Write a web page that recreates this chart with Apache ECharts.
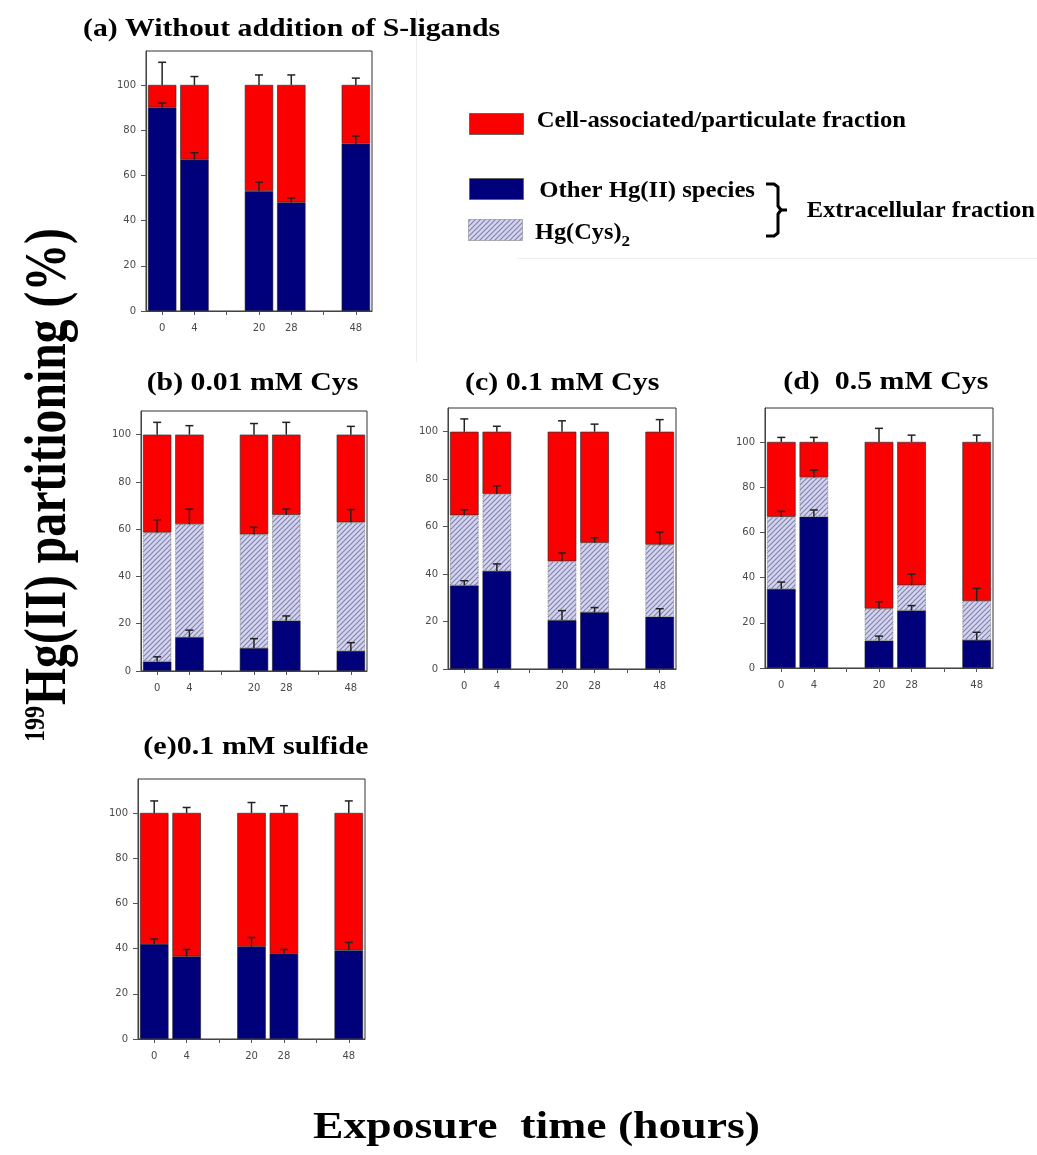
<!DOCTYPE html>
<html><head><meta charset="utf-8">
<script src="https://cdn.jsdelivr.net/npm/echarts@6/dist/echarts.min.js"></script>
<style>html,body{margin:0;padding:0;background:#fff}#c{width:1037px;height:1155px}</style>
</head><body><div id="c"></div><script>
// ---------- data ----------
const times = ['0', '4', '20', '28', '48'];
const slots = ['0', '4', '', '20', '28', '', '48'];   // axis layout with gaps
const slotOfTime = [0, 1, 3, 4, 6];
const yTicks = [0, 20, 40, 60, 80, 100];

// (a) without S-ligands
const aOther = [90, 67, 53, 48, 74];
const aOtherErr = [2, 3, 4, 2, 3.4];
const aCell = [10, 33, 47, 52, 26];
const aCellErr = [10, 3.7, 4.4, 4.4, 3];
// (b) 0.01 mM Cys
const bOther = [4, 14.3, 9.7, 21.3, 8.5];
const bOtherErr = [2, 3, 4, 2, 3.5];
const bCys = [54.6, 47.8, 48.1, 44.8, 54.4];
const bCysErr = [5.4, 6.4, 3, 2.4, 5.4];
const bCell = [41.4, 37.9, 42.2, 33.9, 37.1];
const bCellErr = [5.2, 3.8, 4.7, 5.2, 3.5];
// (c) 0.1 mM Cys
const cOther = [35.2, 41.3, 20.6, 23.9, 22];
const cOtherErr = [2, 3, 4, 2, 3.4];
const cCys = [29.6, 32.5, 24.8, 29.3, 30.4];
const cCysErr = [2.3, 3.4, 3.5, 2.1, 5.3];
const cCell = [35.2, 26.2, 54.6, 46.8, 47.6];
const cCellErr = [5.4, 2.3, 4.6, 3.2, 5.1];
// (d) 0.5 mM Cys
const dOther = [35, 66.9, 12.1, 25.4, 12.4];
const dOtherErr = [3, 3, 2, 2.2, 3.4];
const dCys = [31.9, 17.4, 14.2, 11.2, 17.2];
const dCysErr = [2.4, 3.2, 3, 4.9, 5.6];
const dCell = [33.1, 15.7, 73.7, 63.4, 70.4];
const dCellErr = [2, 2, 6, 3, 3];
// (e) 0.1 mM sulfide
const eOther = [42, 36.5, 40.8, 37.7, 39.2];
const eOtherErr = [2.2, 3.1, 4.1, 1.9, 3.5];
const eCell = [58, 63.5, 59.2, 62.3, 60.8];
const eCellErr = [5.3, 2.4, 4.6, 3.2, 5.3];

const panelTitles = ['(a) Without addition of S-ligands', '(b) 0.01 mM Cys', '(c) 0.1 mM Cys', '(d)  0.5 mM Cys', '(e)0.1 mM sulfide'];
const legendNames = ['Cell-associated/particulate fraction', 'Other Hg(II) species', 'Hg(Cys)', 'Extracellular fraction'];

// ---------- layout ----------
const panels = [
  { other: aOther, otherErr: aOtherErr, cys: null, cysErr: null, cell: aCell, cellErr: aCellErr, g: { left: 146, top: 51, width: 226, height: 260 }, max: 115 },
  { other: bOther, otherErr: bOtherErr, cys: bCys, cysErr: bCysErr, cell: bCell, cellErr: bCellErr, g: { left: 141, top: 411, width: 226, height: 260 }, max: 110 },
  { other: cOther, otherErr: cOtherErr, cys: cCys, cysErr: cCysErr, cell: cCell, cellErr: cCellErr, g: { left: 448, top: 408, width: 228, height: 261 }, max: 110 },
  { other: dOther, otherErr: dOtherErr, cys: dCys, cysErr: dCysErr, cell: dCell, cellErr: dCellErr, g: { left: 765, top: 408, width: 228, height: 260 }, max: 115 },
  { other: eOther, otherErr: eOtherErr, cys: null, cysErr: null, cell: eCell, cellErr: eCellErr, g: { left: 138, top: 779, width: 227, height: 260 }, max: 115 }
];
const titlePos = [[83, 500, 30], [146.7, 358.3, 383.5], [465, 659.3, 383.5], [783.3, 988.3, 382.5], [143.3, 368.3, 747.5]];

const RED = '#fb0000', NAVY = '#00007a';
const pat = document.createElement('canvas'); pat.width = 5; pat.height = 5;
(function () {
  const g = pat.getContext('2d');
  g.fillStyle = '#d4d4ea'; g.fillRect(0, 0, 5, 5);
  g.strokeStyle = '#8282b8'; g.lineWidth = 1.2;
  g.beginPath();
  g.moveTo(0, 5); g.lineTo(5, 0);
  g.moveTo(-1, 1); g.lineTo(1, -1);
  g.moveTo(4, 6); g.lineTo(6, 4);
  g.stroke();
})();
const HATCH = { image: pat, repeat: 'repeat' };

const SERIF = '"Liberation Serif", "Times New Roman", serif';
const mctx = document.createElement('canvas').getContext('2d');
function measure(text, size) { mctx.font = 'bold ' + size + 'px ' + SERIF; return mctx.measureText(text).width; }
function fitText(text, size, x0, x1, cy) {
  const w = measure(text, size);
  const font = 'bold ' + size + 'px ' + SERIF;
  return { type: 'text', x: x0, y: cy, scaleX: (x1 - x0) / w, z: 100,
    style: { text: text, font: font, fill: '#000', textAlign: 'left', textVerticalAlign: 'middle', align: 'left', verticalAlign: 'middle' } };
}
function toSlots(arr) { const out = slots.map(() => '-'); arr.forEach((v, i) => { out[slotOfTime[i]] = v; }); return out; }

const grids = [], xAxes = [], yAxes = [], series = [];
panels.forEach((p, k) => {
  grids.push(Object.assign({ show: true, borderColor: '#333', borderWidth: 1, backgroundColor: 'transparent' }, p.g));
  xAxes.push({ type: 'category', gridIndex: k, data: slots, boundaryGap: true,
    axisLine: { lineStyle: { color: '#444', width: 1 } },
    axisTick: { show: true, alignWithLabel: true, interval: 0, length: 4, lineStyle: { color: '#555' } },
    axisLabel: { interval: 0, fontSize: 10, color: '#4a4a4a', fontFamily: 'DejaVu Sans', margin: 12 } });
  yAxes.push({ type: 'value', gridIndex: k, min: 0, max: p.max, interval: 20, splitLine: { show: false },
    axisLine: { show: true, lineStyle: { color: '#444', width: 1 } },
    axisTick: { show: true, length: 5, customValues: yTicks, lineStyle: { color: '#555' } },
    axisLabel: { fontSize: 10, color: '#4a4a4a', fontFamily: 'DejaVu Sans', margin: 10, customValues: yTicks } });
  const st = 's' + k;
  series.push({ type: 'bar', name: legendNames[1], xAxisIndex: k, yAxisIndex: k, stack: st, barWidth: '88%', data: toSlots(p.other),
    itemStyle: { color: NAVY, borderColor: '#222', borderWidth: 0.6 } });
  if (p.cys) series.push({ type: 'bar', name: legendNames[2], xAxisIndex: k, yAxisIndex: k, stack: st, barWidth: '88%', data: toSlots(p.cys),
    itemStyle: { color: HATCH, borderColor: '#777', borderWidth: 0.8, borderType: 'dotted' } });
  series.push({ type: 'bar', name: legendNames[0], xAxisIndex: k, yAxisIndex: k, stack: st, barWidth: '88%', data: toSlots(p.cell),
    itemStyle: { color: RED, borderColor: '#333', borderWidth: 0.7 } });
  // error bars (upper half), at the top of each stacked segment
  const rows = [];
  p.other.forEach((v, i) => {
    const s = slotOfTime[i];
    rows.push([s, v, p.otherErr[i]]);
    let top = v;
    if (p.cys) { top += p.cys[i]; rows.push([s, top, p.cysErr[i]]); }
    top += p.cell[i]; rows.push([s, top, p.cellErr[i]]);
  });
  series.push({ type: 'custom', xAxisIndex: k, yAxisIndex: k, z: 10, silent: true, data: rows,
    renderItem: function (params, api) {
      const a = api.coord([api.value(0), api.value(1)]);
      const b = api.coord([api.value(0), api.value(1) + api.value(2)]);
      const st = { stroke: '#222', lineWidth: 1.5 };
      return { type: 'group', children: [
        { type: 'line', shape: { x1: a[0], y1: a[1], x2: b[0], y2: b[1] }, style: st },
        { type: 'line', shape: { x1: b[0] - 4, y1: b[1], x2: b[0] + 4, y2: b[1] }, style: st } ] };
    } });
});

// ---------- graphic: titles, legend, axis titles ----------
const graphic = [];
panelTitles.forEach((t, i) => graphic.push(fitText(t, 25, titlePos[i][0], titlePos[i][1], titlePos[i][2])));
// legend swatches
graphic.push({ type: 'rect', shape: { x: 469.5, y: 113.5, width: 54, height: 21 }, style: { fill: RED, stroke: '#666', lineWidth: 1 } });
graphic.push({ type: 'rect', shape: { x: 469.5, y: 178.5, width: 54, height: 21 }, style: { fill: NAVY, stroke: '#666', lineWidth: 1 } });
graphic.push({ type: 'rect', shape: { x: 468.5, y: 219.5, width: 54, height: 21 }, style: { fill: HATCH, stroke: '#777', lineWidth: 1, lineDash: [1, 1] } });
graphic.push(fitText(legendNames[0], 24, 536.7, 906, 121));
graphic.push(fitText(legendNames[1], 24, 539.3, 755, 191));
graphic.push(fitText(legendNames[2], 24, 535, 621.5, 233));
graphic.push(fitText('2', 15, 621.5, 630, 242));
graphic.push(fitText(legendNames[3], 24, 806.7, 1035, 211));
// bracket
graphic.push({ type: 'polyline', shape: { points: [[766, 184], [774, 184], [778, 187], [778, 206], [781, 210], [778, 214], [778, 233], [774, 236], [766, 236]] },
  style: { stroke: '#000', lineWidth: 3, fill: null, lineJoin: 'round' } });
graphic.push({ type: 'line', shape: { x1: 780, y1: 210, x2: 787, y2: 210 }, style: { stroke: '#000', lineWidth: 3 } });
// x axis title
graphic.push(fitText('Exposure  time (hours)', 38, 313, 760, 1128));
// y axis title (rotated, reading bottom to top)
(function () {
  const supSize = 24, mainSize = 47;
  const bottom = 742, top = 228;
  const supLen = measure('199', supSize);
  const mainLen = measure('Hg(II) partitioning (%)', mainSize);
  const avail = bottom - top - supLen - 1;
  const scaleAlong = avail / mainLen;
  graphic.push({ type: 'text', x: 50, y: bottom - supLen - 1, rotation: Math.PI / 2, scaleX: scaleAlong, scaleY: 1.25, z: 100,
    style: { text: 'Hg(II) partitioning (%)', font: 'bold ' + mainSize + 'px ' + SERIF, fill: '#000', textAlign: 'left', textVerticalAlign: 'middle', align: 'left', verticalAlign: 'middle' } });
  graphic.push({ type: 'text', x: 36, y: bottom, rotation: Math.PI / 2, scaleY: 1.25, z: 100,
    style: { text: '199', font: 'bold ' + supSize + 'px ' + SERIF, fill: '#000', textAlign: 'left', textVerticalAlign: 'middle', align: 'left', verticalAlign: 'middle' } });
})();
// faint sub-figure frames
graphic.push({ type: 'line', shape: { x1: 416.5, y1: 10, x2: 416.5, y2: 362 }, style: { stroke: '#eeeeee', lineWidth: 1 } });
graphic.push({ type: 'line', shape: { x1: 517, y1: 258.5, x2: 1037, y2: 258.5 }, style: { stroke: '#eeeeee', lineWidth: 1 } });

const chart = echarts.init(document.getElementById('c'), null, { renderer: 'canvas' });
chart.setOption({ animation: false, backgroundColor: '#fff', grid: grids, xAxis: xAxes, yAxis: yAxes, series: series, graphic: graphic });
</script></body></html>
